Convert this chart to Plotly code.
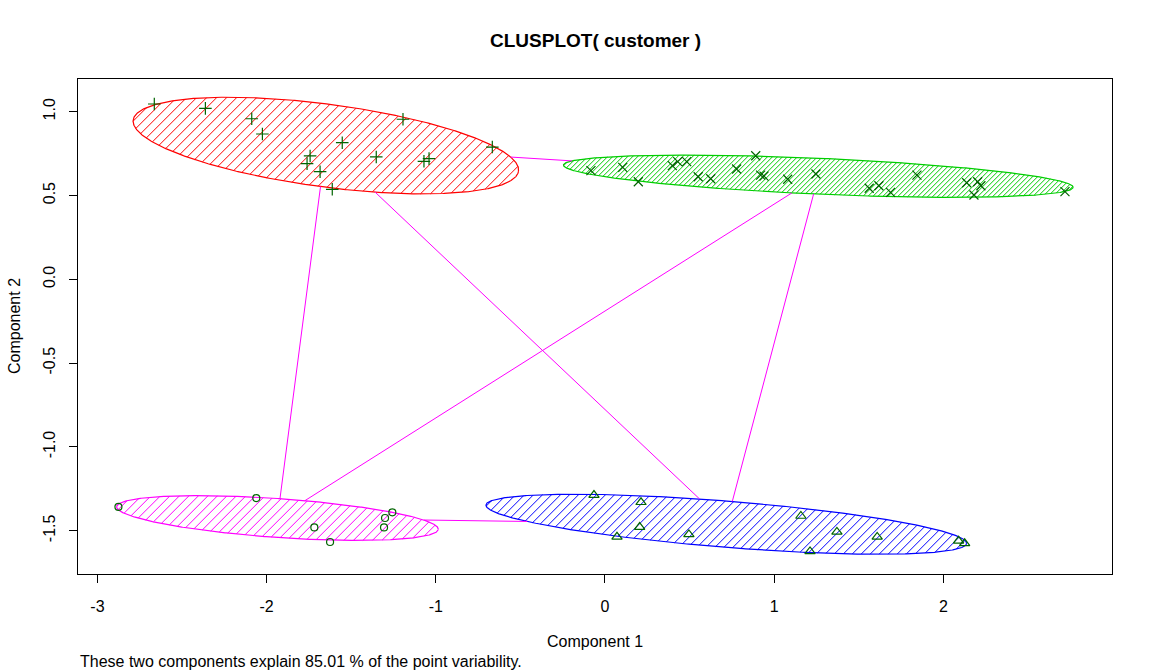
import numpy as np
import plotly.graph_objects as go

# ---------------- data ----------------
# cluster 1 (red ellipse, "+" markers)
c1_x = [-2.664, -2.362, -2.088, -2.025, -1.553, -1.743, -1.761, -1.684, -1.612,
        -1.352, -1.194, -1.070, -1.040, -0.666]
c1_y = [1.046, 1.020, 0.958, 0.867, 0.815, 0.736, 0.690, 0.642, 0.537,
        0.730, 0.955, 0.704, 0.720, 0.789]
# cluster 2 (green ellipse, "x" markers)
c2_x = [-0.083, 0.105, 0.197, 0.398, 0.430, 0.483, 0.551, 0.625, 0.778, 0.891,
        0.920, 0.940, 1.080, 1.247, 1.562, 1.619, 1.688, 1.844, 2.138, 2.203,
        2.222, 2.181, 2.719]
c2_y = [0.648, 0.668, 0.582, 0.678, 0.702, 0.702, 0.612, 0.600, 0.658, 0.737,
        0.622, 0.616, 0.597, 0.628, 0.543, 0.558, 0.519, 0.622, 0.576, 0.582,
        0.558, 0.503, 0.523]
# cluster 3 (magenta ellipse, circle markers)
c3_x = [-2.876, -2.061, -1.718, -1.625, -1.300, -1.257, -1.306]
c3_y = [-1.357, -1.305, -1.480, -1.567, -1.424, -1.390, -1.480]
# cluster 4 (blue ellipse, triangle markers)
c4_x = [-0.065, 0.213, 0.205, 0.071, 0.496, 1.158, 1.371, 1.609, 1.212, 2.090, 2.126]
c4_y = [-1.287, -1.330, -1.478, -1.536, -1.522, -1.412, -1.507, -1.537, -1.623,
        -1.560, -1.575]

# spanning ellipses: red, green, magenta, blue
ell_cx = [-1.650, 1.261, -1.936, 0.717]
ell_cy = [0.798, 0.615, -1.424, -1.461]
ell_a = [1.149, 1.508, 0.953, 1.425]
ell_b = [0.247, 0.107, 0.116, 0.138]
ell_angle = [-7.62, -2.53, -4.06, -4.61]
ell_hatch_px = [10, 5, 9.5, 9]
ell_colors = ["#FF0000", "#00CD00", "#FF00FF", "#0000FF"]

x_ticks = [-3, -2, -1, 0, 1, 2]
x_ticktext = ["-3", "-2", "-1", "0", "1", "2"]
y_ticks = [1.0, 0.5, 0.0, -0.5, -1.0, -1.5]
y_ticktext = ["1.0", "0.5", "0.0", "-0.5", "-1.0", "-1.5"]

# ---------------- layout geometry ----------------
W, H = 1152, 672
ML, MR, MT, MB = 78, 40, 79, 98
XR = [-3.115, 2.997]
YR = [-1.758, 1.195]
SX = (W - ML - MR) / (XR[1] - XR[0])
SY = (H - MT - MB) / (YR[1] - YR[0])


def ellipse_pts(i, n=721):
    t = np.linspace(0, 2 * np.pi, n)
    th = np.radians(ell_angle[i])
    ex = ell_cx[i] + ell_a[i] * np.cos(t) * np.cos(th) - ell_b[i] * np.sin(t) * np.sin(th)
    ey = ell_cy[i] + ell_a[i] * np.cos(t) * np.sin(th) + ell_b[i] * np.sin(t) * np.cos(th)
    return ex, ey


def hatch(i):
    ex, ey = ellipse_pts(i)
    u, v = ex * SX, ey * SY
    w = v - u
    sp = ell_hatch_px[i]
    xs, ys = [], []
    k = np.ceil(w.min() / sp) * sp
    while k < w.max():
        sv = []
        for j in range(len(u) - 1):
            w1, w2 = w[j], w[j + 1]
            if (w1 - k) * (w2 - k) < 0:
                f = (k - w1) / (w2 - w1)
                uu = u[j] + f * (u[j + 1] - u[j])
                vv = v[j] + f * (v[j + 1] - v[j])
                sv.append(uu + vv)
        if len(sv) >= 2:
            for s in (min(sv), max(sv)):
                xs.append((s - k) / 2 / SX)
                ys.append((s + k) / 2 / SY)
            xs.append(None)
            ys.append(None)
        k += sp
    return xs, ys


def boundary_toward(i, j):
    dx = ell_cx[j] - ell_cx[i]
    dy = ell_cy[j] - ell_cy[i]
    th = np.radians(ell_angle[i])
    dxr = dx * np.cos(th) + dy * np.sin(th)
    dyr = -dx * np.sin(th) + dy * np.cos(th)
    t = 1.0 / np.sqrt((dxr / ell_a[i]) ** 2 + (dyr / ell_b[i]) ** 2)
    return ell_cx[i] + t * dx, ell_cy[i] + t * dy


fig = go.Figure()

# shading
for i in range(4):
    hx, hy = hatch(i)
    fig.add_trace(go.Scatter(x=hx, y=hy, mode="lines",
                             line=dict(color=ell_colors[i], width=1),
                             hoverinfo="skip", showlegend=False))
# outlines
for i in range(4):
    ex, ey = ellipse_pts(i)
    fig.add_trace(go.Scatter(x=ex, y=ey, mode="lines",
                             line=dict(color=ell_colors[i], width=1.2),
                             hoverinfo="skip", showlegend=False))
# connecting lines between ellipses
lx, ly = [], []
for i in range(4):
    for j in range(i + 1, 4):
        p1 = boundary_toward(i, j)
        p2 = boundary_toward(j, i)
        lx += [p1[0], p2[0], None]
        ly += [p1[1], p2[1], None]
fig.add_trace(go.Scatter(x=lx, y=ly, mode="lines",
                         line=dict(color="#FF00FF", width=1),
                         hoverinfo="skip", showlegend=False))

pt_col = "#006400"
for xs, ys, sym, sz in [(c1_x, c1_y, "cross-thin-open", 9),
                        (c2_x, c2_y, "x-thin-open", 9),
                        (c3_x, c3_y, "circle-open", 7),
                        (c4_x, c4_y, "triangle-up-open", 9)]:
    fig.add_trace(go.Scatter(x=xs, y=ys, mode="markers",
                             marker=dict(symbol=sym, size=sz, color=pt_col,
                                         line=dict(color=pt_col, width=1.2)),
                             showlegend=False))

FONT = "Liberation Sans, Arial, sans-serif"
axis_common = dict(showgrid=False, zeroline=False, showline=True, mirror=True,
                   linecolor="black", linewidth=1, ticks="outside", ticklen=8,
                   tickcolor="black", tickwidth=1,
                   tickfont=dict(family=FONT, size=16, color="black"))
fig.update_layout(
    width=W, height=H,
    margin=dict(l=ML, r=MR, t=MT, b=MB),
    paper_bgcolor="white", plot_bgcolor="white",
    xaxis=dict(range=XR, tickvals=x_ticks, ticktext=x_ticktext,
               ticklabelstandoff=10, **axis_common),
    yaxis=dict(range=YR, tickvals=y_ticks, ticktext=y_ticktext, tickangle=-90,
               ticklabelstandoff=8, **axis_common),
)


def px_to_paper(px, py):
    return (px - ML) / (W - ML - MR), (H - MB - py) / (H - MT - MB)


def add_text(text, px, py, size=16, bold=False, xanchor="center", angle=0):
    xp, yp = px_to_paper(px, py)
    fig.add_annotation(text=f"<b>{text}</b>" if bold else text, x=xp, y=yp,
                       xref="paper", yref="paper", xanchor=xanchor, yanchor="middle",
                       showarrow=False, textangle=angle,
                       font=dict(family=FONT, size=size, color="black"))


add_text("CLUSPLOT( customer )", 595, 41, size=19, bold=True)
add_text("Component 1", 595, 641)
add_text("Component 2", 14, 326, angle=-90)
add_text("These two components explain 85.01 % of the point variability.", 78, 661,
         xanchor="left")

fig.write_html("out.html")
